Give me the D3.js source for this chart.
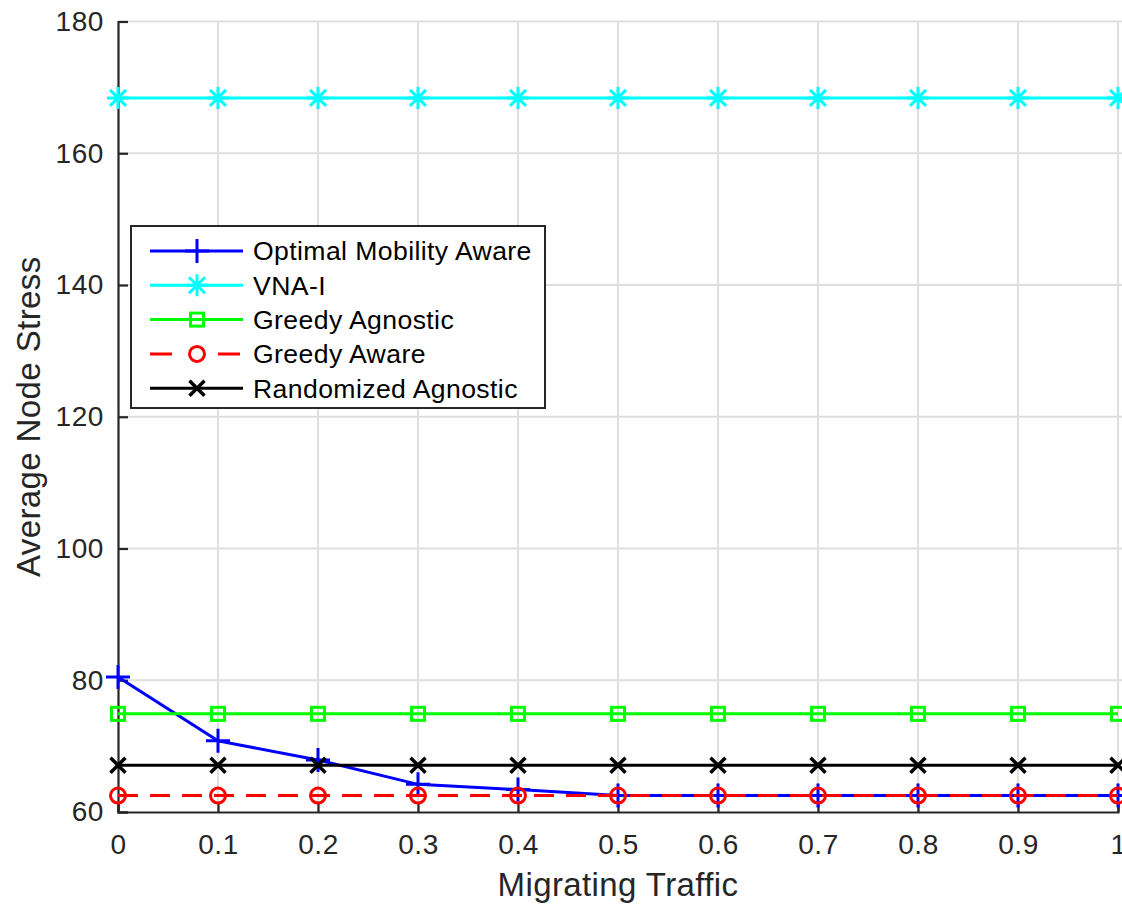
<!DOCTYPE html>
<html>
<head>
<meta charset="utf-8">
<script src="https://cdn.jsdelivr.net/npm/d3@7"></script>
<style>
  body { margin: 0; background: #fff; }
  svg { display: block; font-family: "Liberation Sans", Arial, sans-serif; }
</style>
</head>
<body>
<div id="chart"></div>
<script>
const traffic = [0, 0.1, 0.2, 0.3, 0.4, 0.5, 0.6, 0.7, 0.8, 0.9, 1];
const optimalAware = [80.5, 70.8, 67.9, 64.2, 63.4, 62.5, 62.5, 62.5, 62.5, 62.5, 62.5];
const vnaI = [168.4, 168.4, 168.4, 168.4, 168.4, 168.4, 168.4, 168.4, 168.4, 168.4, 168.4];
const greedyAgnostic = [74.9, 74.9, 74.9, 74.9, 74.9, 74.9, 74.9, 74.9, 74.9, 74.9, 74.9];
const greedyAware = [62.5, 62.5, 62.5, 62.5, 62.5, 62.5, 62.5, 62.5, 62.5, 62.5, 62.5];
const randomAgnostic = [67.1, 67.1, 67.1, 67.1, 67.1, 67.1, 67.1, 67.1, 67.1, 67.1, 67.1];
const xTicks = [0, 0.1, 0.2, 0.3, 0.4, 0.5, 0.6, 0.7, 0.8, 0.9, 1];
const yTicks = [60, 80, 100, 120, 140, 160, 180];

const series = [
  { name: "Optimal Mobility Aware", values: optimalAware, color: "#0000ff", marker: "plus", dash: null },
  { name: "VNA-I", values: vnaI, color: "#00ffff", marker: "star", dash: null },
  { name: "Greedy Agnostic", values: greedyAgnostic, color: "#00ff00", marker: "square", dash: null },
  { name: "Greedy Aware", values: greedyAware, color: "#ff0000", marker: "circle", dash: "20,12" },
  { name: "Randomized Agnostic", values: randomAgnostic, color: "#000000", marker: "cross", dash: null },
];

const W = 1122, H = 905;
const svg = d3.select("#chart").append("svg").attr("width", W).attr("height", H);

const x = d3.scaleLinear().domain([0, 1]).range([118, 1118]);
const y = d3.scaleLinear().domain([60, 180]).range([812, 21.5]);

// ---------- grid ----------
const grid = svg.append("g").attr("stroke", "#dfdfdf").attr("stroke-width", 2);
grid.selectAll("line.gx").data(xTicks.slice(1)).enter().append("line")
  .attr("x1", (d) => x(d)).attr("x2", (d) => x(d))
  .attr("y1", y(60)).attr("y2", y(180));
grid.selectAll("line.gy").data(yTicks.slice(1)).enter().append("line")
  .attr("x1", x(0)).attr("x2", x(1) + 10)
  .attr("y1", (d) => y(d)).attr("y2", (d) => y(d));

// ---------- axes ----------
const axisColor = "#262626";
const xAxis = svg.append("g")
  .attr("transform", `translate(0, ${y(60)})`)
  .call(d3.axisBottom(x).tickValues(xTicks).tickFormat(d3.format("")).tickSize(-10).tickPadding(22));
const yAxis = svg.append("g")
  .attr("transform", `translate(${x(0)}, 0)`)
  .call(d3.axisLeft(y).tickValues(yTicks).tickSize(-10).tickPadding(14));
[xAxis, yAxis].forEach((g) => {
  g.select(".domain").attr("stroke", axisColor).attr("stroke-width", 2.2);
  g.selectAll(".tick line").attr("stroke", axisColor).attr("stroke-width", 2.2);
  g.selectAll(".tick text")
    .attr("fill", axisColor)
    .attr("font-size", 28)
    .attr("letter-spacing", 0.6)
    .attr("font-family", "Liberation Sans, Arial, sans-serif");
});

// axis labels
svg.append("text")
  .attr("x", x(0.5)).attr("y", 896)
  .attr("text-anchor", "middle")
  .attr("font-size", 33)
  .attr("letter-spacing", 0.4)
  .attr("fill", axisColor)
  .text("Migrating Traffic");
svg.append("text")
  .attr("transform", `translate(40, ${(y(60) + y(180)) / 2}) rotate(-90)`)
  .attr("text-anchor", "middle")
  .attr("font-size", 33)
  .attr("letter-spacing", 0.4)
  .attr("fill", axisColor)
  .text("Average Node Stress");

// ---------- markers ----------
function drawMarker(g, type, color) {
  const sw = 3;
  if (type === "plus") {
    g.append("path").attr("d", "M-12,0H12M0,-12V12").attr("stroke", color).attr("stroke-width", sw).attr("fill", "none");
  } else if (type === "star") {
    g.append("path").attr("d", "M-11,0H11M0,-11V11M-8,-8L8,8M-8,8L8,-8").attr("stroke", color).attr("stroke-width", sw).attr("fill", "none");
  } else if (type === "square") {
    g.append("rect").attr("x", -6.5).attr("y", -6.5).attr("width", 13).attr("height", 13)
      .attr("stroke", color).attr("stroke-width", sw).attr("fill", "none");
  } else if (type === "circle") {
    g.append("circle").attr("r", 7.5).attr("stroke", color).attr("stroke-width", sw).attr("fill", "none");
  } else if (type === "cross") {
    g.append("path").attr("d", "M-7.5,-7.5L7.5,7.5M-7.5,7.5L7.5,-7.5").attr("stroke", color).attr("stroke-width", sw + 0.5).attr("fill", "none");
  }
}

// ---------- lines ----------
const line = d3.line().x((d, i) => x(traffic[i])).y((d) => y(d));
series.forEach((s) => {
  const g = svg.append("g");
  g.append("path")
    .attr("d", line(s.values))
    .attr("fill", "none")
    .attr("stroke", s.color)
    .attr("stroke-width", 3)
    .attr("stroke-dasharray", s.dash);
  s.values.forEach((v, i) => {
    drawMarker(g.append("g").attr("transform", `translate(${x(traffic[i])}, ${y(v)})`), s.marker, s.color);
  });
});

// ---------- legend ----------
const lg = svg.append("g").attr("transform", "translate(131, 226)");
lg.append("rect").attr("width", 414).attr("height", 182)
  .attr("fill", "#fff").attr("stroke", axisColor).attr("stroke-width", 2);
series.forEach((s, i) => {
  const cy = 25 + i * 34.3;
  const row = lg.append("g").attr("transform", `translate(0, ${cy})`);
  row.append("line").attr("x1", 19).attr("x2", 112).attr("y1", 0).attr("y2", 0)
    .attr("stroke", s.color).attr("stroke-width", 3).attr("stroke-dasharray", s.dash ? "22,46" : null);
  drawMarker(row.append("g").attr("transform", "translate(66, 0)"), s.marker, s.color);
  row.append("text").attr("x", 122).attr("y", 0).attr("dy", "0.35em")
    .attr("font-size", 26.6).attr("letter-spacing", 0.4).attr("fill", "#000")
    .text(s.name);
});
</script>
</body>
</html>
